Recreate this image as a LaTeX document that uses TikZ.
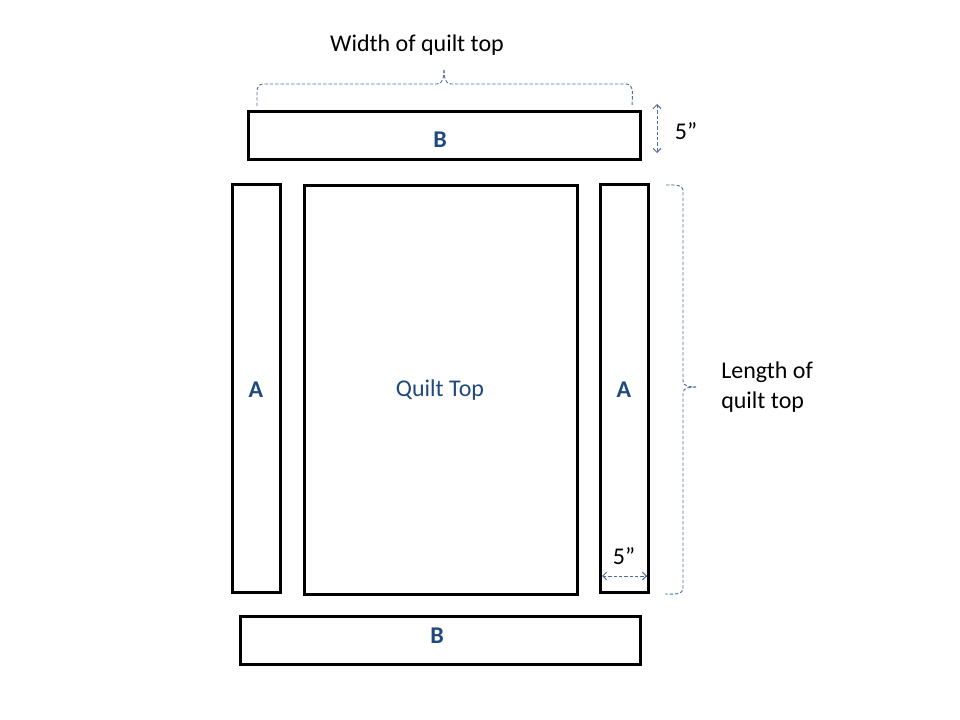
\documentclass[tikz,border=0pt]{standalone}
\usepackage{fontspec}
\setmainfont{Carlito}
\usetikzlibrary{arrows.meta}
\definecolor{lbl}{HTML}{1F497D}
\definecolor{dim}{HTML}{4F6FA0}
\tikzset{
  strip/.style={draw=black, line width=2.25pt, fill=white},
  lettr/.style={text=lbl, font=\fontsize{18}{22}\selectfont\bfseries},
  plain/.style={font=\fontsize{18}{22}\selectfont},
  brace/.style={draw=dim, line width=0.7pt, dash pattern=on 2.5pt off 1.5pt},
  dimarrow/.style={brace, {Straight Barb[length=3pt,width=6pt]}-{Straight Barb[length=3pt,width=6pt]}}
}
\begin{document}
\begin{tikzpicture}[x=0.75pt,y=-0.75pt]
\useasboundingbox (0,0) rectangle (960,720);
% strips
\draw[strip] (248,112) rectangle (640,160);
\node[lettr] (btop) at (440,140) {B};
\draw[strip] (232,185) rectangle (280,592);
\node[lettr] (aleft) at (256,390) {A};
\draw[strip] (304,186) rectangle (577,594);
\node[text=lbl, plain] (qt) at (440,390) {Quilt Top};
\draw[strip] (600,185) rectangle (648,592);
\node[lettr] (aright) at (624,390) {A};
\draw[strip] (240,616) rectangle (640,664);
\node[lettr] (bbot) at (437,636) {B};
% top brace
\coordinate (tb1) at (257,106);
\coordinate (tb2) at (632,106);
\coordinate (tbtip) at (444,70);
\draw[brace] (tb1) -- (257,91) to[out=90,in=180] (263,84) -- (437,84)
  to[out=0,in=-90] (tbtip);
\draw[brace] (tbtip) to[out=-90,in=180] (451,84) -- (626,84)
  to[out=0,in=90] (tb2);
\node[plain] (wlabel) at (417,45) {Width of quilt top};
% right brace
\coordinate (rb1) at (666,185);
\coordinate (rb2) at (665,594);
\coordinate (rbtip) at (696,387);
\draw[brace] (rb1) to[out=0,in=90] (683,191) -- (683,381) to[out=-90,in=180] (rbtip);
\draw[brace] (rbtip) to[out=180,in=90] (683,393) -- (683,588) to[out=-90,in=0] (rb2);
\node[plain, align=left, anchor=west, inner sep=0pt] (llabel) at (721,387)
  {\fontsize{18}{22.5}\selectfont Length of\\quilt top};
% 5" dimensions
\coordinate (va) at (657,104);
\coordinate (vb) at (657,153);
\draw[dimarrow] (va) -- (vb);
\node[plain] (five1) at (686,131) {5”};
\coordinate (ha) at (602,576);
\coordinate (hb) at (647,576);
\draw[dimarrow] (ha) -- (hb);
\node[plain] (five2) at (624,556) {5”};
\end{tikzpicture}
\end{document}
